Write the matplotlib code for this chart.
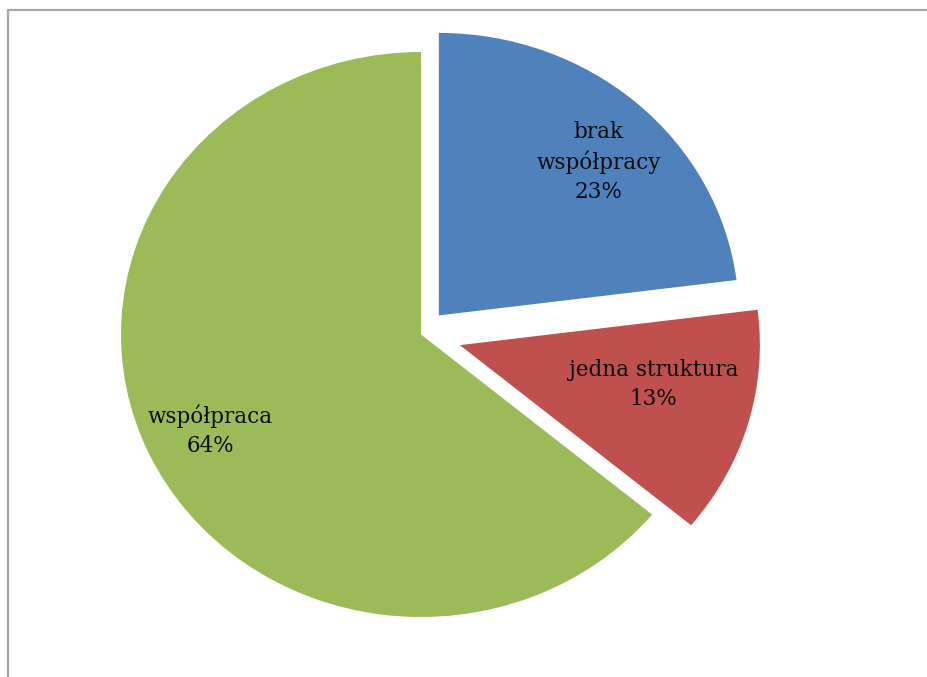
import matplotlib.pyplot as plt
from matplotlib.patches import Rectangle
import numpy as np

labels = ['brak\nwspółpracy', 'jedna struktura', 'współpraca']
shares = [23, 13, 64]
colors = ['#4F81BD', '#C0504D', '#9BBB59']
explode = [0.09, 0.135, 0.0]
label_dist = [0.76, 0.66, 0.78]
label_turn = [-3.0, 4.0, 0.7]

W, H = 928, 677
fig = plt.figure(figsize=(W / 100, H / 100), dpi=100)
ax = fig.add_axes([0, 0, 1, 1])

wedges, _ = ax.pie(shares, colors=colors, explode=explode, startangle=90,
                   counterclock=False, wedgeprops=dict(linewidth=0))

# slightly wider than tall, centre at (421, 334) px
ax.set_aspect('auto')
rx, ry = 300.0, 282.5
cx, cy = 421.0, H - 334.5
ax.set_xlim(-cx / rx, (W - cx) / rx)
ax.set_ylim(-cy / ry, (H - cy) / ry)
ax.axis('off')

for w, lab, val, d, t in zip(wedges, labels, shares, label_dist, label_turn):
    mid = np.deg2rad((w.theta1 + w.theta2) / 2 + t)
    x0, y0 = w.center
    ax.text(x0 + d * np.cos(mid), y0 + d * np.sin(mid), f'{lab}\n{val}%',
            ha='center', va='center', family='DejaVu Serif', fontsize=15.5,
            color='#0a0a0a', linespacing=1.42)

# chart frame (right and bottom edges fall outside the image)
fig.patches.append(Rectangle((7.5 / W, -0.1), 1.2, 1.1 - 10 / H,
                             transform=fig.transFigure, fill=False,
                             edgecolor='#a6a6a6', linewidth=1.6))

fig.savefig('out.png', dpi=100)
